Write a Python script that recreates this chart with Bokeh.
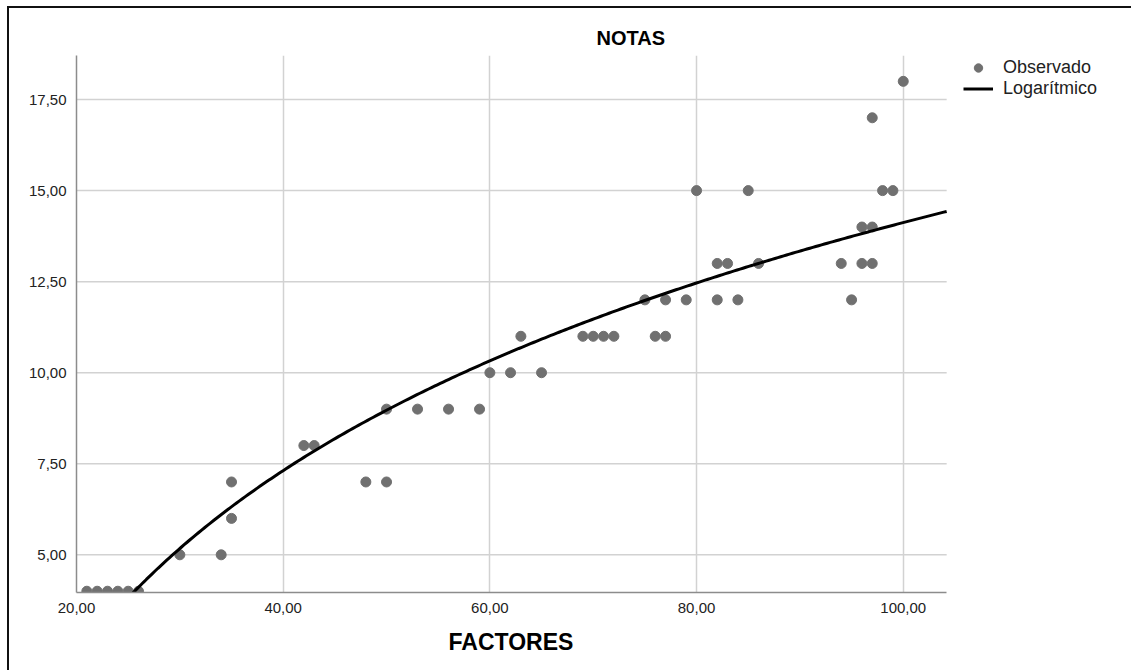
import numpy as np
from bokeh.plotting import figure
from bokeh.models import Legend, LegendItem, FixedTicker, Range1d, Title
from bokeh.embed import file_html
from bokeh.resources import INLINE

# ---- data ----
factores = [21, 22, 23, 24, 25, 26, 30, 34, 35, 35,
            42, 43, 48, 50, 50, 53, 56, 59,
            60, 62, 65, 63, 69, 70, 71, 72,
            75, 76, 77, 77, 79, 80,
            82, 83, 82, 84, 85, 86,
            94, 95, 96, 97, 96, 97, 97, 98, 99, 100]
notas = [4, 4, 4, 4, 4, 4, 5, 5, 6, 7,
         8, 8, 7, 7, 9, 9, 9, 9,
         10, 10, 10, 11, 11, 11, 11, 11,
         12, 11, 11, 12, 12, 15,
         13, 13, 12, 12, 15, 13,
         13, 12, 14, 14, 13, 13, 17, 15, 15, 18]

x_ticks = [20, 40, 60, 80, 100]
x_tick_labels = ["20,00", "40,00", "60,00", "80,00", "100,00"]
y_ticks = [5, 7.5, 10, 12.5, 15, 17.5]
y_tick_labels = ["5,00", "7,50", "10,00", "12,50", "15,00", "17,50"]

X_MIN, X_AXIS_END = 20, 104.2      # extent of the axis / plot area
X_VIEW_END = 122.28                # frame extends under the legend
Y_MIN, Y_MAX = 3.965, 18.71

# logarithmic model fitted to the observed points (y = b0 + b1*ln x)
b1, b0 = np.polyfit(np.log(np.array(factores, float)), np.array(notas, float), 1)
curve_x = np.linspace(X_MIN, X_AXIS_END, 300)
curve_y = b0 + b1 * np.log(curve_x)

FONT = "Liberation Sans"

p = figure(width=1124, height=664, output_backend="svg", toolbar_location=None,
           x_range=Range1d(X_MIN, X_VIEW_END), y_range=Range1d(Y_MIN, Y_MAX),
           min_border_left=67, min_border_right=0, min_border_top=47,
           min_border_bottom=80, title="NOTAS")
p.margin = (6, 0, 0, 7)
p.styles = {"border-top": "2px solid #111", "border-left": "2px solid #111"}
p.outline_line_color = None
p.background_fill_color = "white"
p.border_fill_color = "white"

p.title.align = "left"
p.title.offset = 520
p.title.text_font = FONT
p.title.text_font_size = "20px"
p.title.text_font_style = "bold"
p.title.text_color = "black"
p.title.standoff = 13

for ax, ticks, labels in ((p.xaxis[0], x_ticks, x_tick_labels), (p.yaxis[0], y_ticks, y_tick_labels)):
    ax.ticker = FixedTicker(ticks=ticks)
    ax.major_label_overrides = {t: l for t, l in zip(ticks, labels)}
    ax.major_tick_line_color = None
    ax.minor_tick_line_color = None
    ax.axis_line_color = "#8c8c8c"
    ax.axis_line_width = 1.5
    ax.major_label_text_font = FONT
    ax.major_label_text_font_size = "15px"
    ax.major_label_text_color = "#222222"
p.xaxis.bounds = (X_MIN, X_AXIS_END)
p.xaxis.major_label_standoff = 4
p.yaxis.major_label_standoff = 4

# x-axis title, centred under the plotted axis extent
x_title = Title(text="FACTORES", align="left", offset=372, standoff=22,
                text_font=FONT, text_font_size="23px", text_font_style="bold",
                text_color="black")
p.add_layout(x_title, "below")

GRID_COLOR = "#d2d2d2"
p.xgrid.ticker = FixedTicker(ticks=x_ticks)
p.xgrid.grid_line_color = GRID_COLOR
p.xgrid.grid_line_width = 1.5
p.ygrid.visible = False
# horizontal grid lines limited to the axis extent
p.segment(x0=[X_MIN] * len(y_ticks), x1=[X_AXIS_END] * len(y_ticks),
          y0=y_ticks, y1=y_ticks, line_color=GRID_COLOR, line_width=1.5)

pts = p.scatter(factores, notas, size=10, color="#707070", line_color="#707070")
ln = p.line(curve_x, curve_y, line_color="black", line_width=3)

legend = Legend(items=[LegendItem(label="Observado", renderers=[pts]),
                       LegendItem(label="Logarítmico", renderers=[ln])],
                location=(887, 493), orientation="vertical")
legend.margin = 0
legend.padding = 0
legend.spacing = 0
legend.glyph_width = 30
legend.glyph_height = 21
legend.label_height = 21
legend.label_standoff = 10
legend.label_text_font = FONT
legend.label_text_font_size = "18px"
legend.label_text_color = "#222222"
legend.border_line_color = None
legend.background_fill_alpha = 0
p.add_layout(legend, "center")

open("out.html", "w").write(file_html(p, INLINE))
